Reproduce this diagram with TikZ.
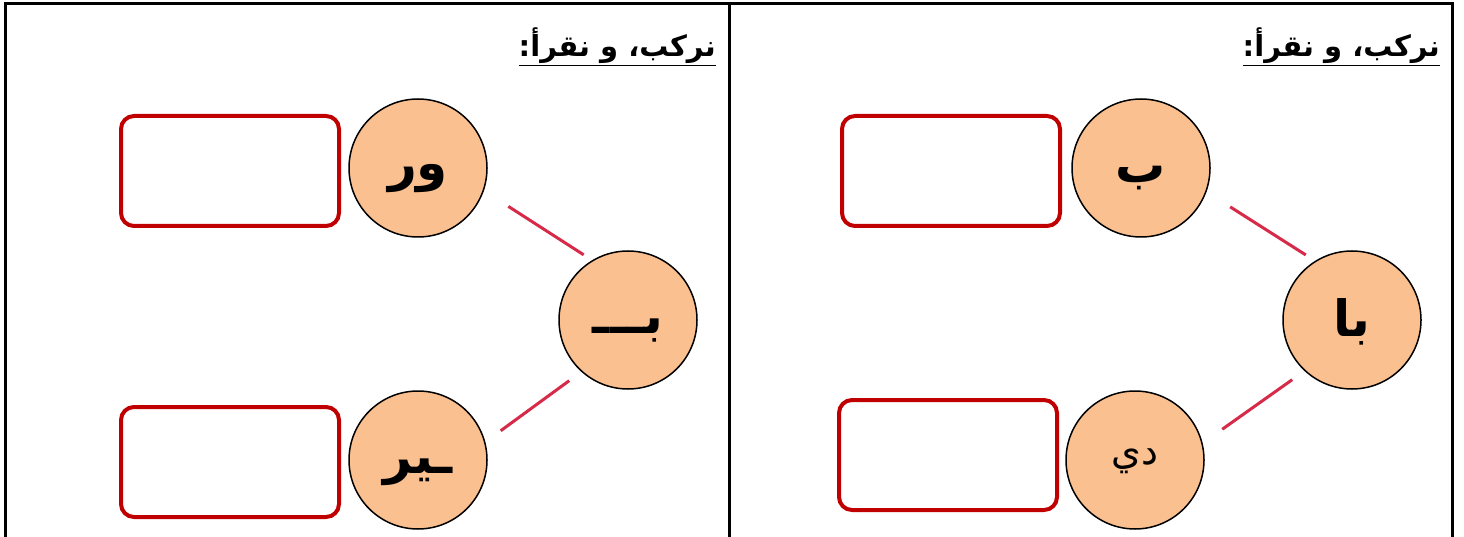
\documentclass[tikz,border=0pt]{standalone}
\usepackage{fontspec}
\setmainfont{DejaVu Sans}
\newfontfamily\arabicfont[Script=Arabic]{DejaVu Sans}
\TeXXeTstate=1
\usetikzlibrary{calc}
\definecolor{peach}{RGB}{250,192,144}
\definecolor{boxred}{RGB}{192,0,0}
\definecolor{linkred}{RGB}{214,42,72}
\newcommand\rtltext[1]{\beginR #1\endR}
\tikzset{
  letter/.style={circle,draw=black,line width=1.5pt,fill=peach,
    minimum size=138pt,inner sep=0pt,text height=26pt,text depth=0pt,
    font=\arabicfont\bfseries\fontsize{50}{60}\selectfont},
  answer/.style={rectangle,draw=boxred,line width=4pt,rounded corners=13pt,
    minimum width=218pt,minimum height=110pt},
  link/.style={draw=linkred,line width=3pt},
  title/.style={anchor=base east,inner sep=0pt,
    font=\arabicfont\bfseries\fontsize{29}{34}\selectfont}
}

\begin{document}
\begin{tikzpicture}[x=1pt,y=-1pt]
    \useasboundingbox (0,0) rectangle (1464,537);
    % table frame
    \draw[line width=3pt] (5,537) -- (5,4) -- (1452,4) -- (1452,537);
    \draw[line width=3pt] (729,4) -- (729,537);
    % left panel
    \node[title] (titleL) at (716,57) {\underline{\beginR نركب، و نقرأ:\endR}};
    \node[answer] (boxLa) at (230,171) {};
    \node[answer] (boxLb) at (230,462) {};
    \node[letter] (wr) at (418,168) {\rtltext{ور}};
    \node[letter] (bL) at (628,320) {\rtltext{بـــ}};
    \node[letter] (yr) at (418,460) {\rtltext{ـير}};
    \draw[link,shorten <=29pt,shorten >=10pt] (wr.-19.5) -- (bL.121.7);
    \draw[link,shorten <=19pt,shorten >=15pt] (yr.15.3) -- (bL.228.8);
    % right panel
    \node[title] (titleR) at (1440,57) {\underline{\beginR نركب، و نقرأ:\endR}};
    \node[answer] (boxRa) at (951,171) {};
    \node[answer] (boxRb) at (948,455) {};
    \node[letter,text height=30pt] (b) at (1141,168) {\rtltext{ب}};
    \node[letter,text height=32pt] (ba) at (1352,320) {\rtltext{با}};
    \node[letter,text height=8pt,font=\arabicfont\fontsize{38}{46}\selectfont] (dy) at (1135,460) {\rtltext{دي}};
    \draw[link,shorten <=28pt,shorten >=11pt] (b.-20.3) -- (ba.122.9);
    \draw[link,shorten <=24pt,shorten >=15pt] (dy.14.5) -- (ba.227.9);
\end{tikzpicture}
\end{document}
